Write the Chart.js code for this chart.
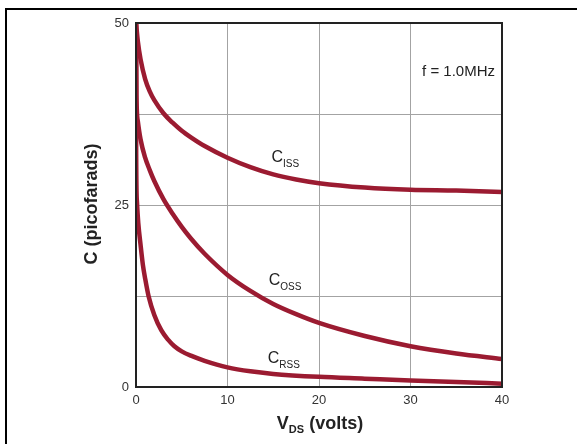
<!DOCTYPE html>
<html>
<head>
<meta charset="utf-8">
<style>
  html, body { margin: 0; padding: 0; background: #fff; }
  #capChart { display: block; }
</style>
</head>
<body>
<canvas id="capChart" width="577" height="444"></canvas>

<script src="https://cdn.jsdelivr.net/npm/chart.js"></script>

<script>
// values (VDS in volts, C in pF)
const cissV = [0, 0.2, 0.5, 1, 1.5, 2, 3, 4, 5, 6, 7.5, 10, 12.5, 15, 17.5, 20, 25, 30, 35, 40];
const cissC = [50, 47.5, 45, 42.3, 40.6, 39.4, 37.6, 36.3, 35.2, 34.3, 33.1, 31.5, 30.2, 29.2, 28.5, 28.0, 27.4, 27.1, 27.0, 26.8];

const cossV = [0, 0.05, 0.2, 0.5, 1, 1.5, 2, 3, 4, 5, 6, 7.5, 10, 12.5, 15, 17.5, 20, 25, 30, 35, 40];
const cossC = [50, 40, 36.5, 34, 31.5, 29.8, 28.3, 25.8, 23.8, 22.0, 20.4, 18.3, 15.4, 13.2, 11.4, 10.0, 8.8, 7.0, 5.6, 4.6, 3.85];

const crssV = [0, 0.02, 0.1, 0.25, 0.5, 0.75, 1, 1.37, 2, 2.76, 3.5, 4.2, 5, 6, 7.5, 10, 12.5, 15, 20, 25, 30, 35, 40];
const crssC = [50, 32, 25.5, 22.5, 19.5, 16.8, 14.9, 12.5, 9.9, 7.8, 6.5, 5.6, 4.9, 4.3, 3.6, 2.7, 2.15, 1.8, 1.4, 1.15, 0.9, 0.7, 0.45];

const xTicks = [0, 10, 20, 30, 40];
const yLabels = [0, 25, 50];

// curve labels: [main, subscript, V, C]
const curveNames = [
  ['C', 'ISS', 14.8, 30.9],
  ['C', 'OSS', 14.5, 14.05],
  ['C', 'RSS', 14.4, 3.35]
];

const lineColor = '#9b1b31';

function toPoints(xs, ys) {
  return xs.map((v, i) => ({ x: v, y: ys[i] }));
}

const decorations = {
  id: 'decorations',
  afterDraw(chart) {
    const ctx = chart.ctx;
    const area = chart.chartArea;
    const xs = chart.scales.x;
    const ys = chart.scales.y;
    ctx.save();

    // outer frame (top and left edges)
    ctx.fillStyle = '#000';
    ctx.fillRect(5, 8, 572, 2);
    ctx.fillRect(5, 8, 2, 436);

    // box around the plot
    ctx.strokeStyle = '#222';
    ctx.lineWidth = 2;
    ctx.strokeRect(area.left, area.top, area.right - area.left, area.bottom - area.top);

    // curve names with subscripts
    ctx.fillStyle = '#222';
    ctx.textBaseline = 'alphabetic';
    ctx.textAlign = 'left';
    curveNames.forEach(n => {
      const px = xs.getPixelForValue(n[2]);
      const py = ys.getPixelForValue(n[3]);
      ctx.font = '16px "Liberation Sans", Arial, sans-serif';
      ctx.fillText(n[0], px, py);
      const w = ctx.measureText(n[0]).width;
      ctx.font = '10px "Liberation Sans", Arial, sans-serif';
      ctx.fillText(n[1], px + w, py + 5);
    });

    // frequency note
    ctx.font = '15px "Liberation Sans", Arial, sans-serif';
    ctx.textAlign = 'right';
    ctx.fillText('f = 1.0MHz', 495, 76);

    // x title: V_DS (volts)
    ctx.textAlign = 'left';
    ctx.font = 'bold 18px "Liberation Sans", Arial, sans-serif';
    const vW = ctx.measureText('V').width;
    ctx.font = 'bold 11px "Liberation Sans", Arial, sans-serif';
    const dsW = ctx.measureText('DS').width;
    ctx.font = 'bold 18px "Liberation Sans", Arial, sans-serif';
    const restW = ctx.measureText(' (volts)').width;
    const tx = 320 - (vW + dsW + restW) / 2;
    const ty = 429;
    ctx.fillText('V', tx, ty);
    ctx.font = 'bold 11px "Liberation Sans", Arial, sans-serif';
    ctx.fillText('DS', tx + vW, ty + 4);
    ctx.font = 'bold 18px "Liberation Sans", Arial, sans-serif';
    ctx.fillText(' (volts)', tx + vW + dsW, ty);

    // y title
    ctx.translate(97, 204);
    ctx.rotate(-Math.PI / 2);
    ctx.textAlign = 'center';
    ctx.fillText('C (picofarads)', 0, 0);

    ctx.restore();
  }
};

const ctx = document.getElementById('capChart').getContext('2d');
const capChart = new Chart(ctx, {
  type: 'line',
  data: {
    datasets: [
      { label: 'Ciss', data: toPoints(cissV, cissC) },
      { label: 'Coss', data: toPoints(cossV, cossC) },
      { label: 'Crss', data: toPoints(crssV, crssC) }
    ].map(d => Object.assign(d, {
      borderColor: lineColor,
      borderWidth: 4.5,
      pointRadius: 0,
      fill: false,
      cubicInterpolationMode: 'monotone',
      borderCapStyle: 'round',
      borderJoinStyle: 'round'
    }))
  },
  options: {
    responsive: false,
    animation: false,
    events: [],
    layout: { padding: { left: 0, top: 23, right: 75, bottom: 0 } },
    plugins: {
      legend: { display: false },
      tooltip: { enabled: false }
    },
    scales: {
      x: {
        type: 'linear',
        min: 0,
        max: 40,
        afterFit(s) { s.height = 57; },
        afterBuildTicks(s) { s.ticks = xTicks.map(v => ({ value: v })); },
        grid: { color: '#a3a3a3', lineWidth: 1, drawTicks: false },
        border: { display: true, color: '#222', width: 2 },
        ticks: {
          padding: 6,
          color: '#333',
          font: { family: '"Liberation Sans", Arial, sans-serif', size: 13 },
          maxRotation: 0
        }
      },
      y: {
        min: 0,
        max: 50,
        afterFit(s) { s.width = 136; },
        ticks: {
          stepSize: 12.5,
          padding: 7,
          color: '#333',
          font: { family: '"Liberation Sans", Arial, sans-serif', size: 13 },
          callback: v => yLabels.includes(v) ? String(v) : ''
        },
        grid: { color: '#a3a3a3', lineWidth: 1, drawTicks: false },
        border: { display: true, color: '#222', width: 2 }
      }
    }
  },
  plugins: [decorations]
});
</script>
</body>
</html>
